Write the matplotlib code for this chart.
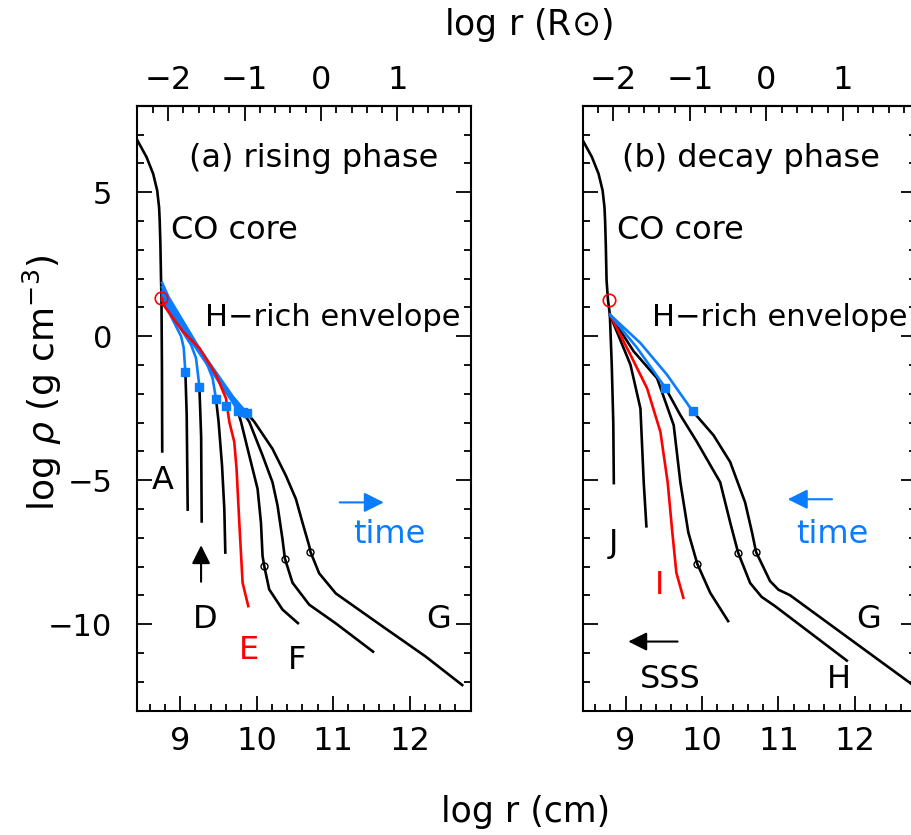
import matplotlib
matplotlib.use("Agg")
import matplotlib.pyplot as plt
import numpy as np

LOGRSUN = 10.8426
BLUE = "#0a7cff"

# ---------------- data ----------------
core_x = [8.43, 8.56, 8.647, 8.70, 8.725, 8.733, 8.742, 8.750, 8.756]
core_y = [6.85, 6.22, 5.64, 5.06, 4.47, 4.01, 3.19, 2.03, 1.33]

# panel (a) rising phase
A_x = [8.756, 8.762, 8.766]
A_y = [1.33, -1.0, -4.0]

B_env_x = [8.765, 8.85, 9.013, 9.047, 9.069]
B_env_y = [1.25, 0.85, -0.006, -0.41, -1.25]
B_x = [9.069, 9.086, 9.099]
B_y = [-1.25, -2.74, -6.02]

C_env_x = [8.765, 8.85, 9.0, 9.143, 9.208, 9.252]
C_env_y = [1.35, 0.90, 0.30, -0.30, -0.76, -1.75]
C_x = [9.252, 9.275, 9.282]
C_y = [-1.75, -3.5, -6.43]

D_env_x = [8.765, 8.85, 9.10, 9.339, 9.425, 9.470]
D_env_y = [1.45, 0.95, 0.0, -0.88, -1.46, -2.195]
D_x = [9.470, 9.503, 9.548, 9.578, 9.591]
D_y = [-2.195, -2.97, -4.49, -6.00, -7.51]

E_x = [8.760, 8.795, 9.034, 9.252, 9.470, 9.600, 9.643, 9.708, 9.738, 9.774, 9.817, 9.891]
E_y = [1.33, 1.04, 0.17, -0.41, -1.34, -2.16, -2.97, -3.67, -4.60, -6.48, -8.56, -9.37]
E_sq = (9.604, -2.42)

F1_env_x = [8.765, 8.85, 9.25, 9.69, 9.752]
F1_env_y = [1.55, 1.05, -0.58, -2.30, -2.58]
F1_x = [9.752, 9.796, 9.904, 10.013, 10.057, 10.078, 10.100, 10.165, 10.339, 10.540]
F1_y = [-2.58, -2.97, -4.14, -5.30, -6.47, -7.63, -7.98, -8.79, -9.49, -9.96]

F2_env_x = [8.765, 8.85, 9.25, 9.69, 9.817]
F2_env_y = [1.70, 1.20, -0.50, -2.20, -2.63]
F2_x = [9.817, 9.904, 10.078, 10.208, 10.274, 10.339, 10.370, 10.470, 10.688, 11.036, 11.523]
F2_y = [-2.63, -2.97, -4.14, -5.07, -5.88, -7.05, -7.72, -8.56, -9.32, -9.97, -10.95]

G_env_x = [8.765, 8.85, 9.25, 9.69, 9.869]
G_env_y = [1.85, 1.35, -0.42, -2.10, -2.66]
G_x = [9.869, 9.970, 10.208, 10.383, 10.514, 10.600, 10.688, 10.705, 10.818, 11.036, 11.645, 12.211, 12.689]
G_y = [-2.66, -2.97, -3.91, -4.84, -5.65, -6.47, -7.28, -7.49, -8.23, -8.93, -10.07, -11.12, -12.11]

circ_a_x = [10.100, 10.370, 10.705]
circ_a_y = [-7.98, -7.72, -7.49]

# panel (b) decay phase
core_b_x = [8.43, 8.56, 8.647, 8.70, 8.725, 8.733, 8.742, 8.752, 8.770, 8.795]
core_b_y = [6.85, 6.22, 5.64, 5.06, 4.47, 4.01, 3.19, 1.95, 1.27, 0.75]

J_x = [8.795, 8.82, 8.84, 8.847]
J_y = [0.75, -1.0, -3.0, -5.1]

K_x = [8.795, 9.065, 9.195, 9.238, 9.273]
K_y = [0.75, -0.995, -2.51, -5.07, -6.60]

I_x = [8.795, 9.065, 9.282, 9.456, 9.551, 9.612, 9.665, 9.756]
I_y = [0.75, -0.65, -1.81, -3.32, -5.07, -6.81, -8.21, -9.08]

L_x = [8.795, 9.108, 9.413, 9.630, 9.717, 9.821, 9.938, 10.108, 10.342]
L_y = [0.75, -0.53, -1.46, -3.09, -5.07, -6.81, -7.90, -8.91, -9.89]

H_env_x = [8.795, 9.152, 9.521]
H_env_y = [0.75, -0.41, -1.79]
H_x = [9.521, 9.717, 9.934, 10.238, 10.369, 10.473, 10.630, 10.78, 10.955, 11.894]
H_y = [-1.79, -2.74, -3.67, -5.07, -6.47, -7.52, -8.57, -9.05, -9.37, -11.26]

Gb_env_x = [8.795, 9.195, 9.543, 9.877]
Gb_env_y = [0.75, -0.24, -1.34, -2.60]
Gb_x = [9.877, 10.151, 10.369, 10.564, 10.655, 10.707, 10.890, 11.0, 11.150, 12.728]
Gb_y = [-2.60, -3.44, -4.37, -5.77, -6.82, -7.49, -8.50, -8.80, -8.99, -12.05]

circ_b_x = [9.938, 10.473, 10.707]
circ_b_y = [-7.90, -7.52, -7.49]

# ---------------- figure ----------------
W, H = 911, 835
fig = plt.figure(figsize=(W / 100, H / 100), dpi=100)
plt.rcParams['font.family'] = ['DejaVu Sans']

ax_h = 605 / H
ax_b = (H - 710.7) / H
ax_w = 333.4 / W
ax1 = fig.add_axes([137.3 / W, ax_b, ax_w, ax_h])
ax2 = fig.add_axes([582.7 / W, ax_b, ax_w, ax_h])

FS = 23
LFS = 25
LW = 1.9
MAJ, MIN = 10.5, 5.3

def minus_fmt(v, p):
    return f"{v:.0f}".replace('-', '\u2212')

for ax in (ax1, ax2):
    ax.set_xlim(8.44, 12.79)
    ax.set_ylim(-13, 8)
    ax.set_xticks([9, 10, 11, 12])
    ax.set_xticks(np.arange(8.6, 12.8, 0.2), minor=True)
    ax.set_yticks([-10, -5, 0, 5])
    ax.set_yticks(np.arange(-12, 8, 1), minor=True)
    ax.tick_params(which='both', direction='in', top=False, right=True, width=1.3, labelsize=FS)
    ax.tick_params(axis='x', pad=11)
    ax.tick_params(axis='y', pad=18, labelsize=22)
    ax.tick_params(which='major', length=MAJ)
    ax.tick_params(which='minor', length=MIN)
    ax.xaxis.set_major_formatter(matplotlib.ticker.FuncFormatter(minus_fmt))
    ax.yaxis.set_major_formatter(matplotlib.ticker.FuncFormatter(minus_fmt))
    for s in ax.spines.values():
        s.set_linewidth(1.5)
    sec = ax.secondary_xaxis('top', functions=(lambda x: x - LOGRSUN, lambda x: x + LOGRSUN))
    sec.set_xticks([-2, -1, 0, 1])
    sec.set_xticks(np.arange(-2.4, 2.0, 0.2), minor=True)
    sec.xaxis.set_major_formatter(matplotlib.ticker.FuncFormatter(minus_fmt))
    sec.tick_params(which='both', direction='in', width=1.3, labelsize=FS, pad=7)
    sec.tick_params(which='major', length=MAJ)
    sec.tick_params(which='minor', length=MIN)
    sec.spines['top'].set_linewidth(1.5)

ax2.tick_params(labelleft=False)

# panel a
ax = ax1
ax.plot(core_x, core_y, color='k', lw=LW)
ax.plot(A_x, A_y, color='k', lw=LW)
for ex, ey, bx, by in [(B_env_x, B_env_y, B_x, B_y), (C_env_x, C_env_y, C_x, C_y),
                       (D_env_x, D_env_y, D_x, D_y), (F1_env_x, F1_env_y, F1_x, F1_y),
                       (F2_env_x, F2_env_y, F2_x, F2_y), (G_env_x, G_env_y, G_x, G_y)]:
    ax.plot(bx, by, color='k', lw=LW)
    ax.plot(ex, ey, color=BLUE, lw=LW)
ax.plot(E_x, E_y, color='red', lw=LW)
sq_x = [B_x[0], C_x[0], D_x[0], E_sq[0], F1_x[0], F2_x[0], G_x[0]]
sq_y = [B_y[0], C_y[0], D_y[0], E_sq[1], F1_y[0], F2_y[0], G_y[0]]
ax.plot(sq_x, sq_y, 's', color=BLUE, ms=5.5, zorder=5)
ax.plot(circ_a_x, circ_a_y, 'o', mfc='none', mec='k', ms=5, mew=1)
ax.plot([core_x[-1]], [core_y[-1]], 'o', mfc='none', mec='red', ms=9, mew=1.2, zorder=6)

ax.text(10.753, 6.17, "(a) rising phase", fontsize=FS, ha='center', va='center')
ax.text(8.886, 3.66, "CO core", fontsize=FS, ha='left', va='center')
ax.text(9.319, 0.66, "H\u2212rich envelope", fontsize=22, ha='left', va='center')
ax.text(8.768, -5.0, "A", fontsize=FS, ha='center', va='center')
ax.text(9.33, -9.85, "D", fontsize=FS, ha='center', va='center')
ax.text(9.907, -10.9, "E", fontsize=FS, ha='center', va='center', color='red')
ax.text(10.53, -11.25, "F", fontsize=FS, ha='center', va='center')
ax.text(12.385, -9.85, "G", fontsize=FS, ha='center', va='center')
ax.annotate("", xy=(11.70, -5.77), xytext=(11.05, -5.77),
            arrowprops=dict(arrowstyle='-|>', color=BLUE, lw=1.5, mutation_scale=30))
ax.text(11.73, -6.89, "time", fontsize=FS, ha='center', va='center', color=BLUE)
ax.annotate("", xy=(9.274, -7.16), xytext=(9.274, -8.62),
            arrowprops=dict(arrowstyle='-|>', color='k', lw=1.5, mutation_scale=28))

# panel b
ax = ax2
ax.plot(core_b_x, core_b_y, color='k', lw=LW)
ax.plot(J_x, J_y, color='k', lw=LW)
ax.plot(K_x, K_y, color='k', lw=LW)
ax.plot(L_x, L_y, color='k', lw=LW)
ax.plot(I_x, I_y, color='red', lw=LW)
ax.plot(H_x, H_y, color='k', lw=LW)
ax.plot(Gb_x, Gb_y, color='k', lw=LW)
ax.plot(H_env_x, H_env_y, color=BLUE, lw=LW)
ax.plot(Gb_env_x, Gb_env_y, color=BLUE, lw=LW)
ax.plot([H_x[0], Gb_x[0]], [H_y[0], Gb_y[0]], 's', color=BLUE, ms=5.5, zorder=5)
ax.plot(circ_b_x, circ_b_y, 'o', mfc='none', mec='k', ms=5, mew=1)
ax.plot([8.785], [1.27], 'o', mfc='none', mec='red', ms=9, mew=1.2, zorder=6)

ax.text(10.642, 6.17, "(b) decay phase", fontsize=FS, ha='center', va='center')
ax.text(8.895, 3.66, "CO core", fontsize=FS, ha='left', va='center')
ax.text(9.352, 0.66, "H\u2212rich envelope", fontsize=22, ha='left', va='center')
ax.text(8.844, -7.2, "J", fontsize=FS, ha='center', va='center')
ax.text(9.443, -8.67, "I", fontsize=FS, ha='center', va='center', color='red')
ax.text(12.18, -9.85, "G", fontsize=FS, ha='center', va='center')
ax.text(11.79, -11.9, "H", fontsize=FS, ha='center', va='center')
ax.text(9.587, -11.9, "SSS", fontsize=FS, ha='center', va='center')
ax.annotate("", xy=(9.0, -10.6), xytext=(9.717, -10.6),
            arrowprops=dict(arrowstyle='-|>', color='k', lw=1.5, mutation_scale=28))
ax.annotate("", xy=(11.085, -5.66), xytext=(11.737, -5.66),
            arrowprops=dict(arrowstyle='-|>', color=BLUE, lw=1.5, mutation_scale=30))
ax.text(11.70, -6.89, "time", fontsize=FS, ha='center', va='center', color=BLUE)

fig.text(526 / W, 1 - 812 / H, "log r (cm)", fontsize=LFS, ha='center', va='center')
fig.text(528 / W, 1 - 25 / H, r"log r (R$\odot$)", fontsize=LFS, ha='center', va='center')
fig.text(42 / W, 1 - 383 / H, r"log $\rho$ (g cm$^{-3}$)", fontsize=26, ha='center', va='center', rotation=90)

fig.savefig("out.png", dpi=100)
